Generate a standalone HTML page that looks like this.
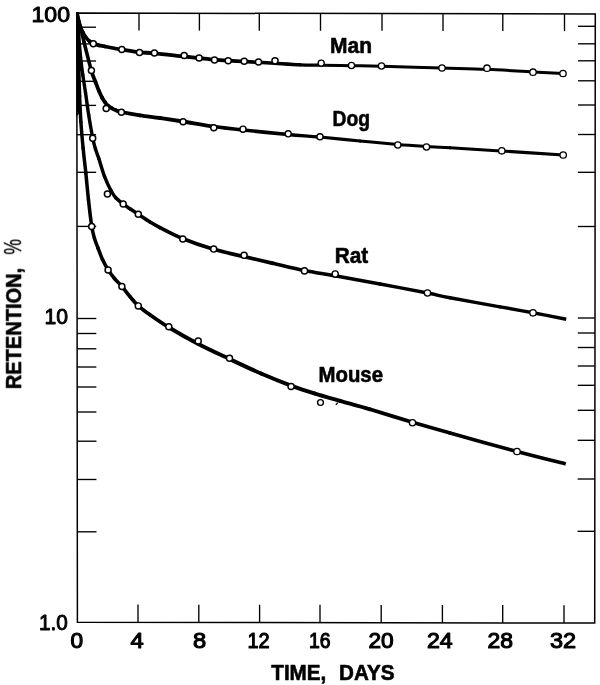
<!DOCTYPE html>
<html><head><meta charset="utf-8"><title>Retention</title>
<style>
html,body{margin:0;padding:0;background:#fff;}
body{width:600px;height:685px;overflow:hidden;}
svg{display:block;}
text{font-family:"Liberation Sans",sans-serif;fill:#000;stroke:#000;stroke-width:0.6px;stroke-linejoin:round;}
text.n{stroke-width:0.95px;}text.p{stroke-width:0.3px;}text.m{stroke-width:1.1px;}
</style></head><body>
<svg width="600" height="685" viewBox="0 0 600 685">
<rect width="600" height="685" fill="#fff"/>
<g stroke="#000" stroke-width="1.5" fill="none" stroke-linecap="butt">
<path stroke-linejoin="miter" d="M76.80,13.10 L595.30,13.90 L594.70,623.00 L77.40,622.30 Z"/>
</g>
<g stroke="#000" stroke-width="1.35" fill="none" stroke-linecap="butt">
<path d="M139.0,13.20 v17.3"/>
<path d="M199.4,13.29 v17.3"/>
<path d="M259.3,13.38 v17.3"/>
<path d="M320.5,13.48 v17.3"/>
<path d="M382.0,13.57 v17.3"/>
<path d="M443.0,13.67 v17.3"/>
<path d="M502.8,13.76 v17.3"/>
<path d="M564.5,13.85 v17.3"/>
<path d="M138.0,622.38 v-17.8"/>
<path d="M198.8,622.46 v-17.8"/>
<path d="M259.6,622.55 v-17.8"/>
<path d="M320.0,622.63 v-17.8"/>
<path d="M381.2,622.71 v-17.8"/>
<path d="M442.4,622.79 v-17.8"/>
<path d="M502.7,622.88 v-17.8"/>
<path d="M564.0,622.96 v-17.8"/>
<path d="M76.81,27.2 h19.2"/>
<path d="M76.83,43.9 h19.2"/>
<path d="M76.85,61.0 h19.2"/>
<path d="M76.87,81.3 h19.2"/>
<path d="M76.89,105.4 h19.2"/>
<path d="M76.92,134.7 h19.2"/>
<path d="M76.96,172.3 h19.2"/>
<path d="M77.01,226.4 h19.2"/>
<path d="M77.10,318.5 h19.2"/>
<path d="M77.12,333.5 h19.2"/>
<path d="M77.13,348.8 h19.2"/>
<path d="M77.15,367.0 h19.2"/>
<path d="M77.17,387.0 h19.2"/>
<path d="M77.19,412.0 h19.2"/>
<path d="M77.22,441.2 h19.2"/>
<path d="M77.26,479.5 h19.2"/>
<path d="M77.31,531.8 h19.2"/>
<path d="M595.29,26.3 h-17.2"/>
<path d="M595.27,43.8 h-17.2"/>
<path d="M595.25,60.8 h-17.2"/>
<path d="M595.23,80.8 h-17.2"/>
<path d="M595.21,105.0 h-17.2"/>
<path d="M595.18,134.5 h-17.2"/>
<path d="M595.14,172.3 h-17.2"/>
<path d="M595.09,226.5 h-17.2"/>
<path d="M595.00,318.0 h-17.2"/>
<path d="M594.99,333.0 h-17.2"/>
<path d="M594.97,347.5 h-17.2"/>
<path d="M594.95,366.0 h-17.2"/>
<path d="M594.93,385.3 h-17.2"/>
<path d="M594.91,410.3 h-17.2"/>
<path d="M594.88,440.3 h-17.2"/>
<path d="M594.84,479.0 h-17.2"/>
<path d="M594.79,531.3 h-17.2"/>
</g>
<clipPath id="fr"><rect x="76.25" y="12.55" width="519.50" height="610.80"/></clipPath>
<g clip-path="url(#fr)" stroke="#000" stroke-width="3.4" fill="none" stroke-linecap="butt" stroke-linejoin="round">
<path stroke-width="3.42" stroke-linecap="round" d="M77.00,13.00 C77.25,14.33 77.92,18.67 78.50,21.00"/>
<path stroke-width="3.48" stroke-linecap="round" d="M78.50,21.00 C79.08,23.33 79.75,25.08 80.50,27.00"/>
<path stroke-width="3.55" stroke-linecap="round" d="M80.50,27.00 C81.25,28.92 82.08,30.75 83.00,32.50"/>
<path stroke-width="3.63" stroke-linecap="round" d="M83.00,32.50 C83.92,34.25 84.92,36.05 86.00,37.50"/>
<path stroke-width="3.73" stroke-linecap="round" d="M86.00,37.50 C87.08,38.95 88.28,40.20 89.50,41.20"/>
<path stroke-width="3.80" stroke-linecap="round" d="M89.50,41.20 C90.72,42.20 91.72,42.82 93.30,43.50"/>
<path stroke-width="3.80" stroke-linecap="round" d="M93.30,43.50 C94.88,44.18 97.05,44.80 99.00,45.30"/>
<path stroke-width="3.80" stroke-linecap="round" d="M99.00,45.30 C100.95,45.80 101.22,45.77 105.00,46.50"/>
<path stroke-width="3.80" stroke-linecap="round" d="M105.00,46.50 C108.78,47.23 115.95,48.73 121.70,49.70"/>
<path stroke-width="3.80" stroke-linecap="round" d="M121.70,49.70 C127.45,50.67 134.02,51.70 139.50,52.30"/>
<path stroke-width="3.80" stroke-linecap="round" d="M139.50,52.30 C144.98,52.90 147.14,52.60 154.60,53.30"/>
<path stroke-width="3.80" stroke-linecap="round" d="M154.60,53.30 C162.06,54.00 176.85,55.72 184.25,56.50"/>
<path stroke-width="3.80" stroke-linecap="round" d="M184.25,56.50 C191.65,57.28 193.96,57.48 199.00,58.00"/>
<path stroke-width="3.77" stroke-linecap="round" d="M199.00,58.00 C204.04,58.52 209.62,59.17 214.50,59.60"/>
<path stroke-width="3.69" stroke-linecap="round" d="M214.50,59.60 C219.38,60.03 223.29,60.28 228.25,60.60"/>
<path stroke-width="3.62" stroke-linecap="round" d="M228.25,60.60 C233.21,60.92 239.21,61.22 244.25,61.50"/>
<path stroke-width="3.54" stroke-linecap="round" d="M244.25,61.50 C249.29,61.78 253.38,62.00 258.50,62.30"/>
<path stroke-width="3.47" stroke-linecap="round" d="M258.50,62.30 C263.62,62.60 268.08,62.88 275.00,63.30"/>
<path stroke-width="3.36" stroke-linecap="round" d="M275.00,63.30 C281.92,63.72 292.33,64.48 300.00,64.80"/>
<path stroke-width="3.26" stroke-linecap="round" d="M300.00,64.80 C307.67,65.12 312.42,65.05 321.00,65.20"/>
<path stroke-width="3.15" stroke-linecap="round" d="M321.00,65.20 C329.58,65.35 341.42,65.52 351.50,65.70"/>
<path stroke-width="3.03" stroke-linecap="round" d="M351.50,65.70 C361.58,65.88 366.42,65.92 381.50,66.30"/>
<path stroke-width="2.91" stroke-linecap="round" d="M381.50,66.30 C396.58,66.68 424.42,67.50 442.00,68.00"/>
<path stroke-width="2.93" stroke-linecap="round" d="M442.00,68.00 C459.58,68.50 471.83,68.63 487.00,69.30"/>
<path stroke-width="2.96" stroke-linecap="round" d="M487.00,69.30 C502.17,69.97 520.33,71.30 533.00,72.00"/>
<path stroke-width="2.97" stroke-linecap="butt" d="M533.00,72.00 C545.67,72.70 558.00,73.25 563.00,73.50"/>
<path stroke-width="3.48" stroke-linecap="round" d="M77.00,13.00 C78.17,17.83 81.60,32.38 84.00,42.00"/>
<path stroke-width="3.64" stroke-linecap="round" d="M84.00,42.00 C86.40,51.62 89.48,64.03 91.40,70.70"/>
<path stroke-width="3.77" stroke-linecap="round" d="M91.40,70.70 C93.32,77.37 94.25,78.65 95.50,82.00"/>
<path stroke-width="3.80" stroke-linecap="round" d="M95.50,82.00 C96.75,85.35 97.82,88.22 98.90,90.80"/>
<path stroke-width="3.80" stroke-linecap="round" d="M98.90,90.80 C99.98,93.38 100.98,95.60 102.00,97.50"/>
<path stroke-width="3.80" stroke-linecap="round" d="M102.00,97.50 C103.02,99.40 104.00,100.82 105.00,102.20"/>
<path stroke-width="3.80" stroke-linecap="round" d="M105.00,102.20 C106.00,103.58 106.83,104.78 108.00,105.80"/>
<path stroke-width="3.80" stroke-linecap="round" d="M108.00,105.80 C109.17,106.82 110.67,107.55 112.00,108.30"/>
<path stroke-width="3.80" stroke-linecap="round" d="M112.00,108.30 C113.33,109.05 114.45,109.68 116.00,110.30"/>
<path stroke-width="3.80" stroke-linecap="round" d="M116.00,110.30 C117.55,110.92 117.30,111.17 121.30,112.00"/>
<path stroke-width="3.80" stroke-linecap="round" d="M121.30,112.00 C125.30,112.83 133.55,114.30 140.00,115.30"/>
<path stroke-width="3.80" stroke-linecap="round" d="M140.00,115.30 C146.45,116.30 152.83,116.97 160.00,118.00"/>
<path stroke-width="3.80" stroke-linecap="round" d="M160.00,118.00 C167.17,119.03 174.04,120.08 183.00,121.50"/>
<path stroke-width="3.80" stroke-linecap="round" d="M183.00,121.50 C191.96,122.92 203.75,125.08 213.75,126.50"/>
<path stroke-width="3.69" stroke-linecap="round" d="M213.75,126.50 C223.75,127.92 230.58,128.67 243.00,130.00"/>
<path stroke-width="3.54" stroke-linecap="round" d="M243.00,130.00 C255.42,131.33 275.42,133.33 288.25,134.50"/>
<path stroke-width="3.38" stroke-linecap="round" d="M288.25,134.50 C301.08,135.67 308.04,135.92 320.00,137.00"/>
<path stroke-width="3.24" stroke-linecap="round" d="M320.00,137.00 C331.96,138.08 347.04,139.75 360.00,141.00"/>
<path stroke-width="3.08" stroke-linecap="round" d="M360.00,141.00 C372.96,142.25 386.67,143.58 397.75,144.50"/>
<path stroke-width="3.01" stroke-linecap="round" d="M397.75,144.50 C408.83,145.42 417.79,145.95 426.50,146.50"/>
<path stroke-width="3.02" stroke-linecap="round" d="M426.50,146.50 C435.21,147.05 437.46,147.05 450.00,147.80"/>
<path stroke-width="3.04" stroke-linecap="round" d="M450.00,147.80 C462.54,148.55 482.88,149.80 501.75,151.00"/>
<path stroke-width="3.07" stroke-linecap="butt" d="M501.75,151.00 C520.62,152.20 553.00,154.33 563.25,155.00"/>
<path stroke-width="3.40" stroke-linecap="round" d="M77.00,13.00 C77.28,16.67 78.10,27.58 78.70,35.00"/>
<path stroke-width="3.41" stroke-linecap="round" d="M78.70,35.00 C79.30,42.42 79.92,50.83 80.60,57.50"/>
<path stroke-width="3.41" stroke-linecap="round" d="M80.60,57.50 C81.28,64.17 81.98,69.15 82.80,75.00"/>
<path stroke-width="3.42" stroke-linecap="round" d="M82.80,75.00 C83.62,80.85 84.52,85.93 85.50,92.60"/>
<path stroke-width="3.43" stroke-linecap="round" d="M85.50,92.60 C86.48,99.27 87.48,107.38 88.70,115.00"/>
<path stroke-width="3.44" stroke-linecap="round" d="M88.70,115.00 C89.92,122.62 91.67,132.63 92.80,138.30"/>
<path stroke-width="3.45" stroke-linecap="round" d="M92.80,138.30 C93.93,143.97 94.48,145.58 95.50,149.00"/>
<path stroke-width="3.46" stroke-linecap="round" d="M95.50,149.00 C96.52,152.42 97.40,154.25 98.90,158.80"/>
<path stroke-width="3.47" stroke-linecap="round" d="M98.90,158.80 C100.40,163.35 102.52,171.05 104.50,176.30"/>
<path stroke-width="3.48" stroke-linecap="round" d="M104.50,176.30 C106.48,181.55 108.92,186.72 110.80,190.30"/>
<path stroke-width="3.50" stroke-linecap="round" d="M110.80,190.30 C112.68,193.88 113.70,195.48 115.80,197.80"/>
<path stroke-width="3.52" stroke-linecap="round" d="M115.80,197.80 C117.90,200.12 121.03,202.37 123.40,204.20"/>
<path stroke-width="3.54" stroke-linecap="round" d="M123.40,204.20 C125.77,206.03 127.52,207.12 130.00,208.80"/>
<path stroke-width="3.56" stroke-linecap="round" d="M130.00,208.80 C132.48,210.48 134.97,212.10 138.30,214.30"/>
<path stroke-width="3.58" stroke-linecap="round" d="M138.30,214.30 C141.63,216.50 146.38,219.78 150.00,222.00"/>
<path stroke-width="3.62" stroke-linecap="round" d="M150.00,222.00 C153.62,224.22 154.50,224.82 160.00,227.60"/>
<path stroke-width="3.69" stroke-linecap="round" d="M160.00,227.60 C165.50,230.38 174.07,235.10 183.00,238.70"/>
<path stroke-width="3.79" stroke-linecap="round" d="M183.00,238.70 C191.93,242.30 203.40,246.22 213.60,249.20"/>
<path stroke-width="3.78" stroke-linecap="round" d="M213.60,249.20 C223.80,252.18 234.30,254.25 244.20,256.60"/>
<path stroke-width="3.75" stroke-linecap="round" d="M244.20,256.60 C254.10,258.95 262.95,260.98 273.00,263.30"/>
<path stroke-width="3.73" stroke-linecap="round" d="M273.00,263.30 C283.05,265.62 294.17,268.42 304.50,270.50"/>
<path stroke-width="3.71" stroke-linecap="round" d="M304.50,270.50 C314.83,272.58 322.42,273.55 335.00,275.80"/>
<path stroke-width="3.61" stroke-linecap="round" d="M335.00,275.80 C347.58,278.05 364.58,281.13 380.00,284.00"/>
<path stroke-width="3.45" stroke-linecap="round" d="M380.00,284.00 C395.42,286.87 415.83,290.71 427.50,293.00"/>
<path stroke-width="3.40" stroke-linecap="round" d="M427.50,293.00 C439.17,295.29 437.92,295.45 450.00,297.75"/>
<path stroke-width="3.40" stroke-linecap="round" d="M450.00,297.75 C462.08,300.05 486.17,304.30 500.00,306.80"/>
<path stroke-width="3.40" stroke-linecap="round" d="M500.00,306.80 C513.83,309.30 521.96,310.68 533.00,312.75"/>
<path stroke-width="3.40" stroke-linecap="butt" d="M533.00,312.75 C544.04,314.82 560.71,318.17 566.25,319.25"/>
<path stroke-width="3.50" stroke-linecap="round" d="M77.20,13.00 C77.42,20.83 78.10,46.17 78.50,60.00"/>
<path stroke-width="3.51" stroke-linecap="round" d="M78.50,60.00 C78.90,73.83 79.20,85.67 79.60,96.00"/>
<path stroke-width="3.51" stroke-linecap="round" d="M79.60,96.00 C80.00,106.33 80.32,113.33 80.90,122.00"/>
<path stroke-width="3.51" stroke-linecap="round" d="M80.90,122.00 C81.48,130.67 82.28,139.53 83.10,148.00"/>
<path stroke-width="3.52" stroke-linecap="round" d="M83.10,148.00 C83.92,156.47 84.90,164.13 85.80,172.80"/>
<path stroke-width="3.53" stroke-linecap="round" d="M85.80,172.80 C86.70,181.47 87.52,191.08 88.50,200.00"/>
<path stroke-width="3.54" stroke-linecap="round" d="M88.50,200.00 C89.48,208.92 90.70,219.88 91.70,226.30"/>
<path stroke-width="3.54" stroke-linecap="round" d="M91.70,226.30 C92.70,232.72 93.45,234.88 94.50,238.50"/>
<path stroke-width="3.55" stroke-linecap="round" d="M94.50,238.50 C95.55,242.12 96.67,244.50 98.00,248.00"/>
<path stroke-width="3.56" stroke-linecap="round" d="M98.00,248.00 C99.33,251.50 100.80,255.85 102.50,259.50"/>
<path stroke-width="3.58" stroke-linecap="round" d="M102.50,259.50 C104.20,263.15 106.20,266.73 108.20,269.90"/>
<path stroke-width="3.59" stroke-linecap="round" d="M108.20,269.90 C110.20,273.07 112.20,275.73 114.50,278.50"/>
<path stroke-width="3.61" stroke-linecap="round" d="M114.50,278.50 C116.80,281.27 119.42,283.48 122.00,286.50"/>
<path stroke-width="3.63" stroke-linecap="round" d="M122.00,286.50 C124.58,289.52 127.28,293.38 130.00,296.60"/>
<path stroke-width="3.66" stroke-linecap="round" d="M130.00,296.60 C132.72,299.82 134.97,302.77 138.30,305.80"/>
<path stroke-width="3.68" stroke-linecap="round" d="M138.30,305.80 C141.63,308.83 144.88,311.18 150.00,314.80"/>
<path stroke-width="3.76" stroke-linecap="round" d="M150.00,314.80 C155.12,318.42 160.95,322.63 169.00,327.50"/>
<path stroke-width="3.90" stroke-linecap="round" d="M169.00,327.50 C177.05,332.37 188.22,338.75 198.30,344.00"/>
<path stroke-width="3.99" stroke-linecap="round" d="M198.30,344.00 C208.38,349.25 219.05,354.08 229.50,359.00"/>
<path stroke-width="3.97" stroke-linecap="round" d="M229.50,359.00 C239.95,363.92 250.75,369.07 261.00,373.50"/>
<path stroke-width="3.94" stroke-linecap="round" d="M261.00,373.50 C271.25,377.93 282.00,382.25 291.00,385.60"/>
<path stroke-width="3.92" stroke-linecap="round" d="M291.00,385.60 C300.00,388.95 306.83,391.07 315.00,393.60"/>
<path stroke-width="3.90" stroke-linecap="round" d="M315.00,393.60 C323.17,396.13 330.83,398.18 340.00,400.80"/>
<path stroke-width="3.82" stroke-linecap="round" d="M340.00,400.80 C349.17,403.42 357.92,405.72 370.00,409.30"/>
<path stroke-width="3.70" stroke-linecap="round" d="M370.00,409.30 C382.08,412.88 399.17,418.35 412.50,422.30"/>
<path stroke-width="3.60" stroke-linecap="round" d="M412.50,422.30 C425.83,426.25 432.58,428.13 450.00,433.00"/>
<path stroke-width="3.60" stroke-linecap="round" d="M450.00,433.00 C467.42,437.87 497.71,446.33 517.00,451.50"/>
<path stroke-width="3.60" stroke-linecap="butt" d="M517.00,451.50 C536.29,456.67 557.62,461.92 565.75,464.00"/>
</g>
<path d="M76.3,13 L78.7,35 L80.6,57.5 L82.2,70 L79.2,72 L79.8,100 L79.6,113 L77,116 L76.3,116 Z" fill="#000"/>
<g stroke="#000" stroke-width="1.4" fill="#fff">
<circle cx="93.3" cy="43.8" r="3.00" stroke-width="1.50"/>
<circle cx="121.8" cy="49.5" r="3.01" stroke-width="1.49"/>
<circle cx="139.5" cy="52.5" r="3.02" stroke-width="1.48"/>
<circle cx="154.4" cy="53.0" r="3.02" stroke-width="1.48"/>
<circle cx="184.2" cy="55.5" r="3.03" stroke-width="1.47"/>
<circle cx="199.1" cy="58.0" r="3.04" stroke-width="1.46"/>
<circle cx="214.5" cy="60.0" r="3.04" stroke-width="1.46"/>
<circle cx="228.2" cy="60.8" r="3.04" stroke-width="1.46"/>
<circle cx="244.2" cy="61.2" r="3.05" stroke-width="1.45"/>
<circle cx="258.5" cy="62.0" r="3.06" stroke-width="1.44"/>
<circle cx="275.0" cy="60.8" r="3.06" stroke-width="1.44"/>
<circle cx="321.2" cy="63.2" r="3.09" stroke-width="1.41"/>
<circle cx="351.5" cy="65.5" r="3.11" stroke-width="1.39"/>
<circle cx="381.5" cy="66.0" r="3.13" stroke-width="1.37"/>
<circle cx="442.0" cy="68.0" r="3.17" stroke-width="1.33"/>
<circle cx="487.0" cy="68.2" r="3.19" stroke-width="1.31"/>
<circle cx="533.0" cy="72.2" r="3.20" stroke-width="1.30"/>
<circle cx="563.0" cy="73.5" r="3.20" stroke-width="1.30"/>
<circle cx="91.4" cy="70.6" r="3.00" stroke-width="1.50"/>
<circle cx="106.2" cy="108.6" r="3.01" stroke-width="1.49"/>
<circle cx="121.4" cy="112.3" r="3.01" stroke-width="1.49"/>
<circle cx="183.1" cy="121.8" r="3.03" stroke-width="1.47"/>
<circle cx="213.8" cy="127.8" r="3.04" stroke-width="1.46"/>
<circle cx="243.0" cy="129.2" r="3.05" stroke-width="1.45"/>
<circle cx="288.2" cy="133.8" r="3.07" stroke-width="1.43"/>
<circle cx="320.0" cy="136.8" r="3.09" stroke-width="1.41"/>
<circle cx="397.8" cy="145.0" r="3.14" stroke-width="1.36"/>
<circle cx="426.5" cy="147.0" r="3.16" stroke-width="1.34"/>
<circle cx="501.8" cy="150.8" r="3.20" stroke-width="1.30"/>
<circle cx="563.2" cy="155.0" r="3.20" stroke-width="1.30"/>
<circle cx="92.7" cy="138.3" r="3.00" stroke-width="1.50"/>
<circle cx="107.4" cy="194.0" r="3.01" stroke-width="1.49"/>
<circle cx="123.2" cy="203.9" r="3.01" stroke-width="1.49"/>
<circle cx="138.3" cy="214.3" r="3.02" stroke-width="1.48"/>
<circle cx="182.8" cy="239.0" r="3.03" stroke-width="1.47"/>
<circle cx="213.7" cy="249.1" r="3.04" stroke-width="1.46"/>
<circle cx="244.1" cy="255.3" r="3.05" stroke-width="1.45"/>
<circle cx="304.5" cy="270.9" r="3.08" stroke-width="1.42"/>
<circle cx="335.2" cy="274.0" r="3.10" stroke-width="1.40"/>
<circle cx="427.5" cy="293.0" r="3.16" stroke-width="1.34"/>
<circle cx="533.0" cy="312.8" r="3.20" stroke-width="1.30"/>
<circle cx="91.7" cy="226.4" r="3.00" stroke-width="1.50"/>
<circle cx="108.1" cy="270.0" r="3.01" stroke-width="1.49"/>
<circle cx="121.9" cy="286.5" r="3.01" stroke-width="1.49"/>
<circle cx="138.3" cy="305.9" r="3.02" stroke-width="1.48"/>
<circle cx="168.8" cy="326.7" r="3.03" stroke-width="1.47"/>
<circle cx="198.2" cy="341.0" r="3.04" stroke-width="1.46"/>
<circle cx="229.5" cy="358.2" r="3.04" stroke-width="1.46"/>
<circle cx="291.1" cy="386.5" r="3.07" stroke-width="1.43"/>
<circle cx="412.5" cy="422.8" r="3.15" stroke-width="1.35"/>
<circle cx="517.0" cy="451.5" r="3.20" stroke-width="1.30"/>
<circle cx="320.5" cy="402.5" r="2.9"/>
</g>
<path d="M335.8,404.8 l2,-2.2" stroke="#000" stroke-width="1.3" fill="none"/>
<g opacity="0.999"><text x="31.5" y="22.0" font-size="21.5" font-weight="normal" textLength="38.5" lengthAdjust="spacingAndGlyphs"  class="n">100</text>
<text x="44.5" y="324.0" font-size="21.5" font-weight="normal" textLength="23.5" lengthAdjust="spacingAndGlyphs"  class="n">10</text>
<text x="39.0" y="630.0" font-size="21.5" font-weight="normal" textLength="28.8" lengthAdjust="spacingAndGlyphs"  class="n">1.0</text>
<text x="70.5" y="648.2" font-size="21.5" font-weight="normal" textLength="12.6" lengthAdjust="spacingAndGlyphs"  class="m">0</text>
<text x="130.5" y="648.2" font-size="21.5" font-weight="normal" textLength="13.2" lengthAdjust="spacingAndGlyphs"  class="m">4</text>
<text x="192.9" y="648.2" font-size="21.5" font-weight="normal" textLength="13.2" lengthAdjust="spacingAndGlyphs"  class="m">8</text>
<text x="247.4" y="648.2" font-size="21.5" font-weight="normal" textLength="22.2" lengthAdjust="spacingAndGlyphs"  class="m">12</text>
<text x="309.0" y="648.2" font-size="21.5" font-weight="normal" textLength="21.6" lengthAdjust="spacingAndGlyphs"  class="m">16</text>
<text x="368.4" y="648.2" font-size="21.5" font-weight="normal" textLength="25.2" lengthAdjust="spacingAndGlyphs"  class="m">20</text>
<text x="426.9" y="648.2" font-size="21.5" font-weight="normal" textLength="25.8" lengthAdjust="spacingAndGlyphs"  class="m">24</text>
<text x="487.5" y="648.2" font-size="21.5" font-weight="normal" textLength="25.5" lengthAdjust="spacingAndGlyphs"  class="m">28</text>
<text x="549.9" y="648.2" font-size="21.5" font-weight="normal" textLength="26.1" lengthAdjust="spacingAndGlyphs"  class="m">32</text>
<text x="271.3" y="679.5" font-size="22" font-weight="bold" textLength="55.0" lengthAdjust="spacingAndGlyphs" >TIME,</text>
<text x="339.0" y="679.5" font-size="22" font-weight="bold" textLength="55.5" lengthAdjust="spacingAndGlyphs" >DAYS</text>
<text x="330.0" y="53.0" font-size="22" font-weight="bold" textLength="42.0" lengthAdjust="spacingAndGlyphs" >Man</text>
<text x="332.5" y="126.3" font-size="22" font-weight="bold" textLength="37.5" lengthAdjust="spacingAndGlyphs" >Dog</text>
<text x="334.8" y="263.0" font-size="22" font-weight="bold" textLength="33.5" lengthAdjust="spacingAndGlyphs" >Rat</text>
<text x="318.5" y="381.5" font-size="22" font-weight="bold" textLength="64.5" lengthAdjust="spacingAndGlyphs" >Mouse</text>
<g transform="translate(21.1,389.2) rotate(-90)"><text x="0.0" y="0.0" font-size="22" font-weight="bold" textLength="121.4" lengthAdjust="spacingAndGlyphs" >RETENTION,</text><text x="134.6" y="0.4" font-size="23" font-weight="normal" textLength="15.6" lengthAdjust="spacingAndGlyphs"  class="p">%</text></g></g>
</svg>
</body></html>
